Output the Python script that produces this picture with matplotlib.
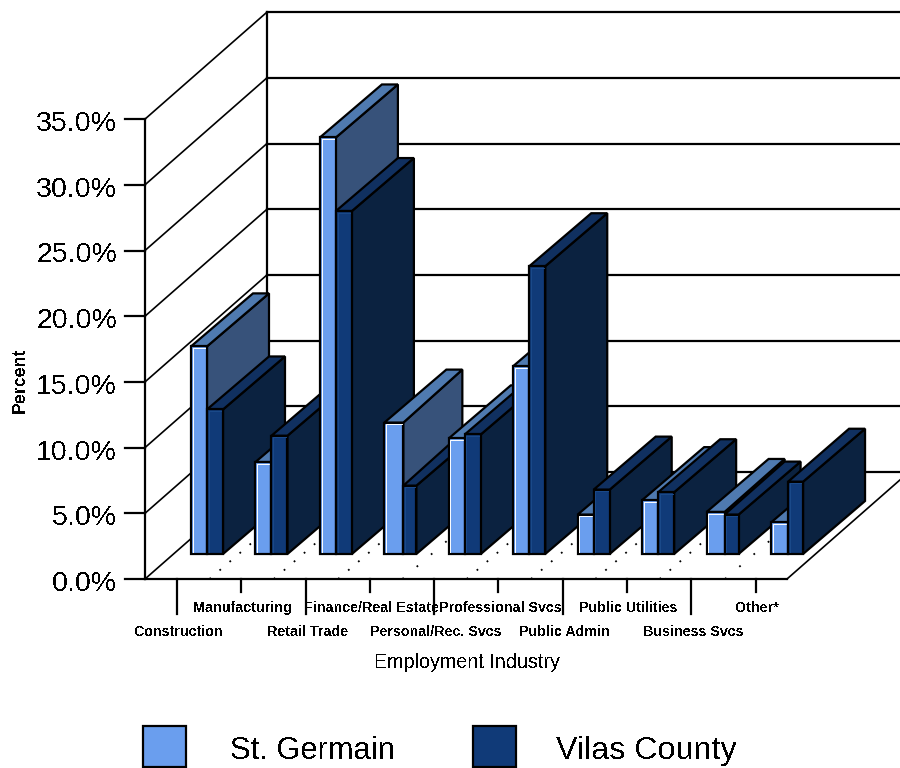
import matplotlib
matplotlib.use("Agg")
import matplotlib.pyplot as plt
from matplotlib.patches import Polygon, Rectangle

categories = ["Construction", "Manufacturing", "Retail Trade", "Finance/Real Estate",
              "Personal/Rec. Svcs", "Professional Svcs", "Public Admin", "Public Utilities",
              "Business Svcs", "Other*"]
st_germain = [15.8, 7.0, 31.7, 10.0, 8.8, 14.3, 3.0, 4.1, 3.2, 2.4]
vilas_county = [11.0, 9.0, 26.1, 5.2, 9.1, 21.9, 4.9, 4.7, 3.0, 5.5]
y_ticks = [0, 5, 10, 15, 20, 25, 30, 35]
series_names = ["St. Germain", "Vilas County"]

# colours: front, side, top, highlight
c_st = ("#6A9EEE", "#37527A", "#4F7AB0", "#FFFFFF")
c_vi = ("#103A78", "#0B2240", "#103060", "#1B4A8A")

W, H = 900, 768
XU = 64.3     # px per category
YU = 13.14    # px per percent
X0, Y0 = 145, 579


def ux(px):
    return (px - X0) / XU


def uy(py):
    return (Y0 - py) / YU


fig = plt.figure(figsize=(9, 7.68), dpi=100)
ax = fig.add_axes([0, 0, 1, 1])
ax.set_xlim(ux(0), ux(W))
ax.set_ylim(uy(H), uy(0))
ax.axis("off")

# depth vectors
wall_dx, wall_dy = 122 / XU, 107 / YU
bar_dx, bar_dy = 62 / XU, 53 / YU
n = len(categories)
floor_w = 642 / XU
lw = 1.6
top_val = 35

# walls and gridlines
for v in y_ticks:
    ax.plot([ux(125), 0], [v, v], color="black", lw=lw, zorder=1)
    ax.plot([0, wall_dx], [v, v + wall_dy], color="black", lw=1.2, zorder=1)
    ax.plot([wall_dx, ux(W + 5)], [v + wall_dy, v + wall_dy], color="black", lw=lw, zorder=1)
ax.plot([0, 0], [0, top_val], color="black", lw=lw, zorder=1)
ax.plot([wall_dx, wall_dx], [wall_dy, top_val + wall_dy], color="black", lw=lw, zorder=1)
ax.plot([0, floor_w], [0, 0], color="black", lw=lw, zorder=1)
ax.plot([floor_w, floor_w + wall_dx], [0, wall_dy], color="black", lw=1.2, zorder=1)

# floor fill hides the wall lines at the right
ax.add_patch(Polygon([(floor_w, 0), (floor_w + wall_dx, wall_dy), (ux(W + 5), wall_dy), (ux(W + 5), 0)],
                     facecolor="white", edgecolor="none", zorder=0.5))

# dotted depth lines on the floor
wide_gap = [3, 8]
for i in range(n):
    start = ux(209.5) + i * 1.0 if i < 8 else ux(209.5 + 8 * 64 + 3.5)
    if i == 9:
        break
    gap = 9.4 if i in wide_gap else 6.3
    ax.plot([start, start + bar_dx * 0.95], [0, bar_dy * 0.95], color="black", lw=1.3,
            dashes=(1, gap), dash_capstyle="butt", zorder=1.5)

# bars, left to right so later ones cover earlier sides
base = 25 / YU
bar_start = ux(191)
bar_step = 64.45 / XU
bar_w = 32 / XU
split_shift = {3: 3 / XU, 8: 2 / XU, 9: 1 / XU}


def draw_bar(x0, x1, back0, back1, h, cols, z):
    y0, y1 = base, base + h
    ax.add_patch(Polygon([(x1, y0), (back1, y0 + bar_dy), (back1, y1 + bar_dy), (x1, y1)],
                         facecolor=cols[1], edgecolor="black", lw=lw, joinstyle="miter", zorder=z))
    ax.add_patch(Polygon([(x0, y1), (back0, y1 + bar_dy), (back1, y1 + bar_dy), (x1, y1)],
                         facecolor=cols[2], edgecolor="black", lw=lw, joinstyle="miter", zorder=z))
    ax.bar(x0, h, width=x1 - x0, bottom=y0, align="edge", color=cols[0], edgecolor="black", lw=lw, zorder=z)
    ins_x, ins_y = 1.6 / XU, 1.6 / YU
    ax.plot([x0 + ins_x, x0 + ins_x, x1 - ins_x], [y0 + ins_y, y1 - ins_y, y1 - ins_y],
            color=cols[3], lw=0.7, zorder=z)


z = 2
for i in range(n):
    left = bar_start + i * bar_step
    mid0 = left + bar_w / 2
    mid = mid0 + split_shift.get(i, 0)
    right = left + bar_w
    draw_bar(left, mid, left + bar_dx, mid0 + bar_dx, st_germain[i], c_st, z)
    z += 1
    draw_bar(mid, right, mid0 + bar_dx, right + bar_dx, vilas_county[i], c_vi, z)
    z += 1

# category ticks and labels, staggered on two rows
tick_start = ux(177)
for i, name in enumerate(categories):
    x = tick_start + i * 1.0
    long_tick = i % 2 == 0
    ax.plot([x, x], [0, uy(614 if long_tick else 592)], color="black", lw=lw, zorder=1)
    row = 632 if long_tick else 608
    ax.text(x + 1.5 / XU, uy(row), name, ha="center", va="center", fontsize=10.3, fontweight="bold",
            family="Liberation Sans", antialiased=False)

# y tick labels
for v in y_ticks:
    ax.text(ux(117), v - 5 / YU, "%.1f%%" % v, ha="right", va="center", fontsize=20.5,
            family="Liberation Sans", antialiased=False)

ax.text(ux(467), uy(662), "Employment Industry", ha="center", va="center", fontsize=14.2,
        family="Liberation Sans", antialiased=False)
ax.text(ux(20), uy(380), "Percent", ha="center", va="center", rotation=90, fontsize=12.8,
        fontweight="bold", family="Liberation Sans", antialiased=False)

# legend
for px, tx, cols, name, size in [(143, 230, c_st, series_names[0], 22.2), (473, 556, c_vi, series_names[1], 23.2)]:
    ax.add_patch(Rectangle((ux(px), uy(767)), 43 / XU, 41 / YU, facecolor=cols[0], edgecolor="black",
                           lw=lw, zorder=2))
    ax.text(ux(tx), uy(751), name, ha="left", va="center", fontsize=size,
            family="Liberation Sans", antialiased=False)

fig.savefig("out.png", dpi=100)
